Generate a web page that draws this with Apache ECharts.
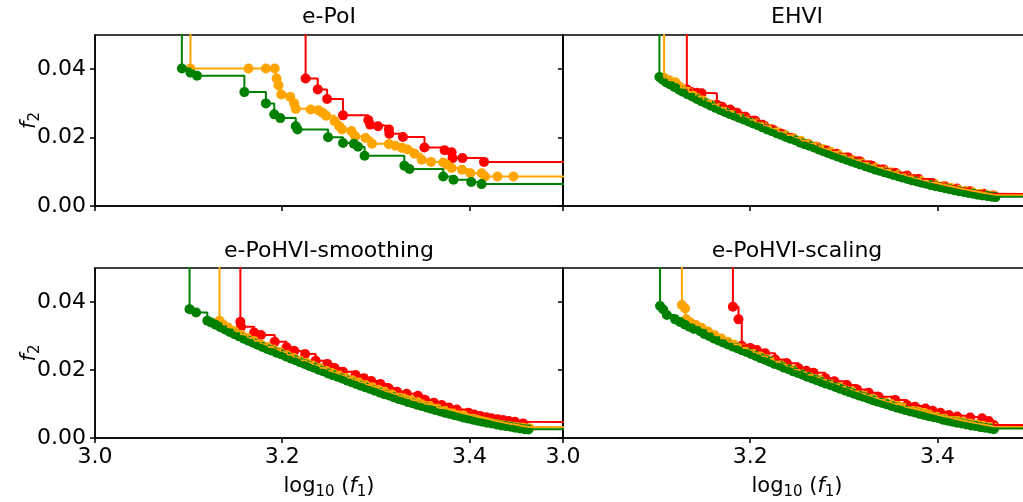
<!DOCTYPE html>
<html>
<head>
<meta charset="utf-8">
<script src="https://cdn.jsdelivr.net/npm/echarts@6/dist/echarts.min.js"></script>
<style>
  html, body { margin: 0; padding: 0; background: #fff; }
  #main { width: 1023px; height: 502px; }
</style>
</head>
<body>
<div id="main"></div>
<script>
// ---- panel titles and tick labels ----
const panelTitles = ['e-PoI', 'EHVI', 'e-PoHVI-smoothing', 'e-PoHVI-scaling'];
const xTicks = [3.0, 3.2, 3.4];
const yTicks = [0.00, 0.02, 0.04];

// ---- e-PoI: Pareto fronts (x = log10(f1), y = f2) ----
const poiRedX = [3.225, 3.238, 3.248, 3.265, 3.292, 3.294, 3.3025, 3.314, 3.3145, 3.329, 3.352, 3.3735, 3.381, 3.382, 3.3926, 3.4156];
const poiRedY = [0.0373, 0.0341, 0.0313, 0.0265, 0.0251, 0.0238, 0.0233, 0.0224, 0.0211, 0.0202, 0.0171, 0.0163, 0.0157, 0.0140, 0.0140, 0.0129];

const poiOrangeX = [3.102, 3.164, 3.1826, 3.192, 3.194, 3.196, 3.199, 3.2085, 3.2128, 3.2145, 3.2304, 3.2386, 3.243, 3.247, 3.256, 3.261, 3.264, 3.274, 3.278, 3.289, 3.296, 3.314, 3.321, 3.328, 3.334, 3.3415, 3.349, 3.359, 3.372, 3.3758, 3.381, 3.392, 3.401, 3.413, 3.4166, 3.43, 3.447];
const poiOrangeY = [0.0402, 0.0402, 0.0402, 0.0402, 0.0373, 0.0353, 0.0326, 0.0319, 0.0300, 0.0284, 0.0282, 0.0280, 0.0273, 0.0264, 0.0248, 0.0233, 0.0224, 0.0219, 0.0204, 0.0199, 0.0182, 0.0181, 0.0176, 0.0170, 0.0165, 0.0153, 0.0135, 0.0129, 0.0127, 0.0121, 0.0111, 0.0106, 0.0096, 0.0096, 0.0086, 0.0086, 0.0086];

const poiGreenX = [3.0928, 3.102, 3.109, 3.1596, 3.1826, 3.1915, 3.198, 3.2145, 3.2163, 3.249, 3.265, 3.2766, 3.281, 3.288, 3.3305, 3.336, 3.372, 3.383, 3.402, 3.413];
const poiGreenY = [0.0402, 0.0390, 0.0381, 0.0333, 0.0300, 0.0268, 0.0257, 0.0233, 0.0224, 0.0201, 0.0184, 0.0182, 0.0173, 0.0147, 0.0118, 0.0108, 0.0086, 0.0077, 0.0070, 0.0064];

// ---- EHVI ----
const ehviRedX = [3.1323, 3.137, 3.143, 3.148, 3.1644, 3.170, 3.1786, 3.1858, 3.195, 3.2053, 3.215, 3.2249, 3.235, 3.245, 3.2535, 3.262, 3.2713, 3.282, 3.2927, 3.305, 3.3176, 3.330, 3.3426, 3.355, 3.3676, 3.380, 3.396, 3.408, 3.4211, 3.435, 3.4495, 3.460];
const ehviRedY = [0.0341, 0.0333, 0.0331, 0.0330, 0.0296, 0.0290, 0.0282, 0.0273, 0.0261, 0.0249, 0.0235, 0.0222, 0.0210, 0.0199, 0.0190, 0.0181, 0.0173, 0.0162, 0.0153, 0.0142, 0.0130, 0.0118, 0.0107, 0.0097, 0.0089, 0.0079, 0.0066, 0.0058, 0.0051, 0.0043, 0.0036, 0.0031];

const ehviOrangeX = [3.108, 3.113, 3.120, 3.126, 3.134, 3.142, 3.150, 3.158, 3.166, 3.174, 3.182, 3.190, 3.198, 3.206, 3.214, 3.222, 3.230, 3.238, 3.246, 3.254, 3.262, 3.270, 3.278, 3.286, 3.294, 3.302, 3.310, 3.318, 3.326, 3.334, 3.342, 3.350, 3.358, 3.366, 3.374, 3.382, 3.390, 3.398, 3.406, 3.414, 3.422, 3.430, 3.438, 3.446, 3.454, 3.461];
const ehviOrangeY = [0.0375, 0.0368, 0.0362, 0.0346, 0.0333, 0.0320, 0.0308, 0.0297, 0.0287, 0.0277, 0.0268, 0.0259, 0.0251, 0.0242, 0.0233, 0.0225, 0.0216, 0.0207, 0.0199, 0.0191, 0.0182, 0.0174, 0.0166, 0.0158, 0.0150, 0.0142, 0.0134, 0.0126, 0.0119, 0.0112, 0.0105, 0.0099, 0.0092, 0.0086, 0.0080, 0.0074, 0.0068, 0.0063, 0.0058, 0.0053, 0.0048, 0.0044, 0.0040, 0.0036, 0.0032, 0.0029];

const ehviGreenX = [3.103, 3.106, 3.110, 3.114, 3.119, 3.124, 3.128, 3.133, 3.138, 3.143, 3.148, 3.153, 3.158, 3.163, 3.168, 3.173, 3.178, 3.183, 3.188, 3.193, 3.198, 3.203, 3.208, 3.213, 3.218, 3.223, 3.228, 3.233, 3.238, 3.243, 3.248, 3.253, 3.258, 3.263, 3.268, 3.273, 3.278, 3.283, 3.288, 3.293, 3.298, 3.303, 3.308, 3.313, 3.318, 3.323, 3.328, 3.333, 3.338, 3.343, 3.348, 3.353, 3.358, 3.363, 3.368, 3.373, 3.378, 3.383, 3.388, 3.393, 3.398, 3.403, 3.408, 3.413, 3.418, 3.423, 3.428, 3.433, 3.438, 3.443, 3.448, 3.453, 3.458, 3.462];
const ehviGreenY = [0.0377, 0.0370, 0.0362, 0.0356, 0.0348, 0.0340, 0.0334, 0.0327, 0.0320, 0.0313, 0.0306, 0.0300, 0.0293, 0.0287, 0.0281, 0.0275, 0.0269, 0.0264, 0.0258, 0.0253, 0.0247, 0.0241, 0.0236, 0.0230, 0.0224, 0.0219, 0.0213, 0.0208, 0.0202, 0.0197, 0.0192, 0.0186, 0.0181, 0.0176, 0.0171, 0.0165, 0.0160, 0.0155, 0.0150, 0.0145, 0.0140, 0.0135, 0.0130, 0.0126, 0.0121, 0.0116, 0.0112, 0.0107, 0.0103, 0.0099, 0.0095, 0.0091, 0.0087, 0.0083, 0.0079, 0.0075, 0.0072, 0.0068, 0.0065, 0.0061, 0.0058, 0.0055, 0.0052, 0.0049, 0.0046, 0.0043, 0.0041, 0.0038, 0.0036, 0.0033, 0.0031, 0.0029, 0.0027, 0.0026];

// ---- e-PoHVI-smoothing ----
const smoRedX = [3.1553, 3.156, 3.170, 3.1773, 3.192, 3.2046, 3.213, 3.2245, 3.2358, 3.2482, 3.256, 3.2649, 3.2784, 3.2872, 3.295, 3.305, 3.3138, 3.3227, 3.333, 3.345, 3.3528, 3.362, 3.3705, 3.378, 3.3865, 3.399, 3.405, 3.4114, 3.418, 3.4237, 3.430, 3.436, 3.442, 3.4486, 3.4574];
const smoRedY = [0.0342, 0.0327, 0.0310, 0.0303, 0.0283, 0.0267, 0.0256, 0.0247, 0.0227, 0.0218, 0.0206, 0.0195, 0.0185, 0.0176, 0.0168, 0.0159, 0.0146, 0.0136, 0.0130, 0.0124, 0.0112, 0.0104, 0.0097, 0.0090, 0.0084, 0.0074, 0.0069, 0.0065, 0.0061, 0.0058, 0.0055, 0.0053, 0.0050, 0.0048, 0.0043];

const smoOrangeX = [3.133, 3.137, 3.142, 3.149, 3.156, 3.163, 3.170, 3.177, 3.184, 3.191, 3.198, 3.205, 3.212, 3.219, 3.226, 3.233, 3.240, 3.247, 3.254, 3.261, 3.268, 3.275, 3.282, 3.289, 3.296, 3.303, 3.310, 3.317, 3.324, 3.331, 3.338, 3.345, 3.352, 3.359, 3.366, 3.373, 3.380, 3.387, 3.394, 3.401, 3.408, 3.415, 3.422, 3.429, 3.436, 3.443, 3.450, 3.457, 3.464];
const smoOrangeY = [0.0345, 0.0334, 0.0325, 0.0314, 0.0304, 0.0294, 0.0285, 0.0276, 0.0268, 0.0260, 0.0252, 0.0244, 0.0236, 0.0228, 0.0221, 0.0213, 0.0206, 0.0198, 0.0191, 0.0184, 0.0177, 0.0170, 0.0163, 0.0156, 0.0149, 0.0142, 0.0136, 0.0129, 0.0123, 0.0117, 0.0111, 0.0105, 0.0099, 0.0094, 0.0088, 0.0083, 0.0078, 0.0073, 0.0068, 0.0063, 0.0059, 0.0055, 0.0050, 0.0046, 0.0042, 0.0039, 0.0035, 0.0032, 0.0029];

const smoGreenX = [3.101, 3.108, 3.120, 3.124, 3.129, 3.134, 3.139, 3.144, 3.149, 3.154, 3.159, 3.164, 3.169, 3.174, 3.179, 3.184, 3.189, 3.194, 3.199, 3.204, 3.209, 3.214, 3.219, 3.224, 3.229, 3.234, 3.239, 3.244, 3.249, 3.254, 3.259, 3.264, 3.269, 3.274, 3.279, 3.284, 3.289, 3.294, 3.299, 3.304, 3.309, 3.314, 3.319, 3.324, 3.329, 3.334, 3.339, 3.344, 3.349, 3.354, 3.359, 3.364, 3.369, 3.374, 3.379, 3.384, 3.389, 3.394, 3.399, 3.404, 3.409, 3.414, 3.419, 3.424, 3.429, 3.434, 3.439, 3.444, 3.449, 3.454, 3.459, 3.463];
const smoGreenY = [0.0379, 0.0369, 0.0345, 0.0340, 0.0333, 0.0326, 0.0319, 0.0312, 0.0305, 0.0299, 0.0292, 0.0286, 0.0280, 0.0274, 0.0268, 0.0262, 0.0257, 0.0251, 0.0246, 0.0240, 0.0234, 0.0229, 0.0223, 0.0218, 0.0212, 0.0207, 0.0201, 0.0196, 0.0190, 0.0185, 0.0180, 0.0175, 0.0169, 0.0164, 0.0159, 0.0154, 0.0149, 0.0144, 0.0139, 0.0134, 0.0129, 0.0125, 0.0120, 0.0115, 0.0111, 0.0106, 0.0102, 0.0098, 0.0094, 0.0090, 0.0086, 0.0082, 0.0078, 0.0074, 0.0071, 0.0067, 0.0064, 0.0060, 0.0057, 0.0054, 0.0051, 0.0048, 0.0045, 0.0043, 0.0040, 0.0037, 0.0035, 0.0033, 0.0030, 0.0028, 0.0026, 0.0025];

// ---- e-PoHVI-scaling ----
const scaRedX = [3.1815, 3.1875, 3.191, 3.200, 3.2071, 3.216, 3.2267, 3.2392, 3.2517, 3.260, 3.2677, 3.2802, 3.290, 3.3034, 3.3141, 3.3266, 3.3372, 3.3551, 3.3676, 3.376, 3.3872, 3.395, 3.4032, 3.412, 3.4211, 3.435, 3.4478, 3.4549, 3.4602];
const scaRedY = [0.0386, 0.0349, 0.0271, 0.0265, 0.0259, 0.0249, 0.0231, 0.0220, 0.0205, 0.0198, 0.0192, 0.0176, 0.0167, 0.0156, 0.0143, 0.0133, 0.0121, 0.0112, 0.0097, 0.0092, 0.0087, 0.0080, 0.0074, 0.0068, 0.0063, 0.0060, 0.0058, 0.0050, 0.0038];

const scaOrangeX = [3.127, 3.1305, 3.1316, 3.136, 3.142, 3.148, 3.155, 3.162, 3.169, 3.176, 3.183, 3.190, 3.197, 3.204, 3.211, 3.218, 3.225, 3.232, 3.239, 3.246, 3.253, 3.260, 3.267, 3.274, 3.281, 3.288, 3.295, 3.302, 3.309, 3.316, 3.323, 3.330, 3.337, 3.344, 3.351, 3.358, 3.365, 3.372, 3.379, 3.386, 3.393, 3.400, 3.407, 3.414, 3.421, 3.428, 3.435, 3.442, 3.449, 3.456, 3.461];
const scaOrangeY = [0.0391, 0.0381, 0.0349, 0.0340, 0.0332, 0.0324, 0.0313, 0.0302, 0.0293, 0.0283, 0.0274, 0.0265, 0.0257, 0.0249, 0.0240, 0.0232, 0.0224, 0.0216, 0.0208, 0.0200, 0.0193, 0.0185, 0.0178, 0.0171, 0.0164, 0.0157, 0.0150, 0.0143, 0.0137, 0.0130, 0.0124, 0.0118, 0.0112, 0.0106, 0.0100, 0.0095, 0.0089, 0.0084, 0.0079, 0.0074, 0.0069, 0.0064, 0.0060, 0.0055, 0.0051, 0.0047, 0.0043, 0.0040, 0.0036, 0.0033, 0.0030];

const scaGreenX = [3.1037, 3.107, 3.111, 3.1198, 3.125, 3.130, 3.135, 3.140, 3.1465, 3.151, 3.156, 3.161, 3.166, 3.171, 3.176, 3.181, 3.186, 3.191, 3.196, 3.201, 3.206, 3.211, 3.216, 3.221, 3.226, 3.231, 3.236, 3.241, 3.246, 3.251, 3.256, 3.261, 3.266, 3.271, 3.276, 3.281, 3.286, 3.291, 3.296, 3.301, 3.306, 3.311, 3.316, 3.321, 3.326, 3.331, 3.336, 3.341, 3.346, 3.351, 3.356, 3.361, 3.366, 3.371, 3.376, 3.381, 3.386, 3.391, 3.396, 3.401, 3.406, 3.411, 3.416, 3.421, 3.426, 3.431, 3.436, 3.441, 3.446, 3.451, 3.456, 3.4602];
const scaGreenY = [0.0388, 0.0378, 0.0362, 0.0349, 0.0341, 0.0334, 0.0327, 0.0321, 0.0314, 0.0306, 0.0300, 0.0293, 0.0287, 0.0281, 0.0275, 0.0269, 0.0264, 0.0258, 0.0253, 0.0247, 0.0241, 0.0235, 0.0230, 0.0224, 0.0218, 0.0213, 0.0207, 0.0202, 0.0196, 0.0191, 0.0186, 0.0180, 0.0175, 0.0170, 0.0165, 0.0160, 0.0155, 0.0150, 0.0145, 0.0140, 0.0135, 0.0130, 0.0125, 0.0121, 0.0116, 0.0111, 0.0107, 0.0103, 0.0099, 0.0094, 0.0090, 0.0086, 0.0082, 0.0078, 0.0075, 0.0071, 0.0068, 0.0064, 0.0061, 0.0058, 0.0054, 0.0051, 0.0048, 0.0045, 0.0043, 0.0040, 0.0037, 0.0035, 0.0032, 0.0030, 0.0028, 0.0026];

// ---- layout & styling ----
const FONT = 'DejaVu Sans';
const COLORS = { red: '#ff0000', orange: '#ffa500', green: '#008000' };
const X_MIN = 3.0, X_MAX = 3.5, Y_MIN = 0, Y_MAX = 0.05;
const LINE_TOP = 0.08;   // start of the vertical segment above the plot
const LINE_END = 3.7;    // end of the trailing horizontal segment

const gridRects = [
  { left: 95,  top: 35,  width: 468, height: 171 },
  { left: 563, top: 35,  width: 468, height: 171 },
  { left: 95,  top: 268, width: 468, height: 170 },
  { left: 563, top: 268, width: 468, height: 170 }
];
const titleCenters = [[329, 6], [797, 6], [329, 240], [797, 240]];

const panels = [
  { red: [poiRedX, poiRedY],  orange: [poiOrangeX, poiOrangeY],  green: [poiGreenX, poiGreenY] },
  { red: [ehviRedX, ehviRedY], orange: [ehviOrangeX, ehviOrangeY], green: [ehviGreenX, ehviGreenY] },
  { red: [smoRedX, smoRedY],  orange: [smoOrangeX, smoOrangeY],  green: [smoGreenX, smoGreenY] },
  { red: [scaRedX, scaRedY],  orange: [scaOrangeX, scaOrangeY],  green: [scaGreenX, scaGreenY] }
];

const zip = (xs, ys) => xs.map((x, i) => [x, ys[i]]);

const mathRich = {
  r: { fontFamily: FONT, fontSize: 21, color: '#000', lineHeight: 26, verticalAlign: 'middle' },
  i: { fontFamily: FONT, fontSize: 21, fontStyle: 'italic', color: '#000', lineHeight: 26, verticalAlign: 'middle' },
  s: { fontFamily: FONT, fontSize: 15, color: '#000', lineHeight: 14, verticalAlign: 'bottom' }
};

const series = [];
const methods = ['red', 'orange', 'green'];
panels.forEach((p, gi) => {
  // markers
  methods.forEach(m => {
    series.push({
      type: 'scatter', xAxisIndex: gi, yAxisIndex: gi,
      data: zip(p[m][0], p[m][1]),
      symbol: 'circle', symbolSize: 10,
      itemStyle: { color: COLORS[m], opacity: 1 },
      z: 2, silent: true
    });
  });
  // attainment step lines
  methods.forEach(m => {
    const xs = p[m][0], ys = p[m][1];
    const pts = [[xs[0], LINE_TOP]].concat(zip(xs, ys)).concat([[LINE_END, ys[ys.length - 1]]]);
    series.push({
      type: 'line', step: 'end', xAxisIndex: gi, yAxisIndex: gi,
      data: pts, showSymbol: false, symbol: 'none',
      lineStyle: { color: COLORS[m], width: 2 },
      z: 3, silent: true, clip: true
    });
  });
});

const tickStyle = { color: '#000', width: 1.5 };
const labelStyle = { fontFamily: FONT, fontSize: 22, color: '#000' };

const option = {
  animation: false,
  backgroundColor: '#fff',
  title: panelTitles.map((t, i) => ({
    text: t, left: titleCenters[i][0], top: titleCenters[i][1], textAlign: 'center', padding: 0,
    textStyle: { fontFamily: FONT, fontSize: 22, fontWeight: 'normal', color: '#000' }
  })),
  grid: gridRects.map(r => Object.assign({
    show: true, borderColor: '#000', borderWidth: 1.5, backgroundColor: 'transparent',
    containLabel: false, outerBoundsMode: 'none'
  }, r)),
  xAxis: gridRects.map((r, i) => ({
    type: 'value', gridIndex: i, min: X_MIN, max: X_MAX,
    axisLine: { show: true, onZero: false, lineStyle: tickStyle },
    axisTick: { show: true, inside: false, length: 5, customValues: xTicks, lineStyle: tickStyle },
    axisLabel: Object.assign({ show: i >= 2, margin: 8, customValues: xTicks, formatter: v => v.toFixed(1) }, labelStyle),
    splitLine: { show: false },
    name: i >= 2 ? '{r|log}{s|10}{r| (}{i|f}{s|1}{r|)}' : '',
    nameLocation: 'middle', nameGap: 36, nameMoveOverlap: false,
    nameTextStyle: { rich: mathRich }
  })),
  yAxis: gridRects.map((r, i) => ({
    type: 'value', gridIndex: i, min: Y_MIN, max: Y_MAX,
    axisLine: { show: true, onZero: false, lineStyle: tickStyle },
    axisTick: { show: true, inside: false, length: 5, customValues: yTicks, lineStyle: tickStyle },
    axisLabel: Object.assign({ show: i % 2 === 0, margin: 9, customValues: yTicks, formatter: v => v.toFixed(2) }, labelStyle),
    splitLine: { show: false },
    name: i % 2 === 0 ? '{i|f}{s|2}' : '',
    nameLocation: 'middle', nameRotate: 90, nameGap: 52, nameMoveOverlap: false,
    nameTextStyle: { rich: mathRich }
  })),
  series: series
};

const chart = echarts.init(document.getElementById('main'), null, { renderer: 'canvas' });
chart.setOption(option);
</script>
</body>
</html>
